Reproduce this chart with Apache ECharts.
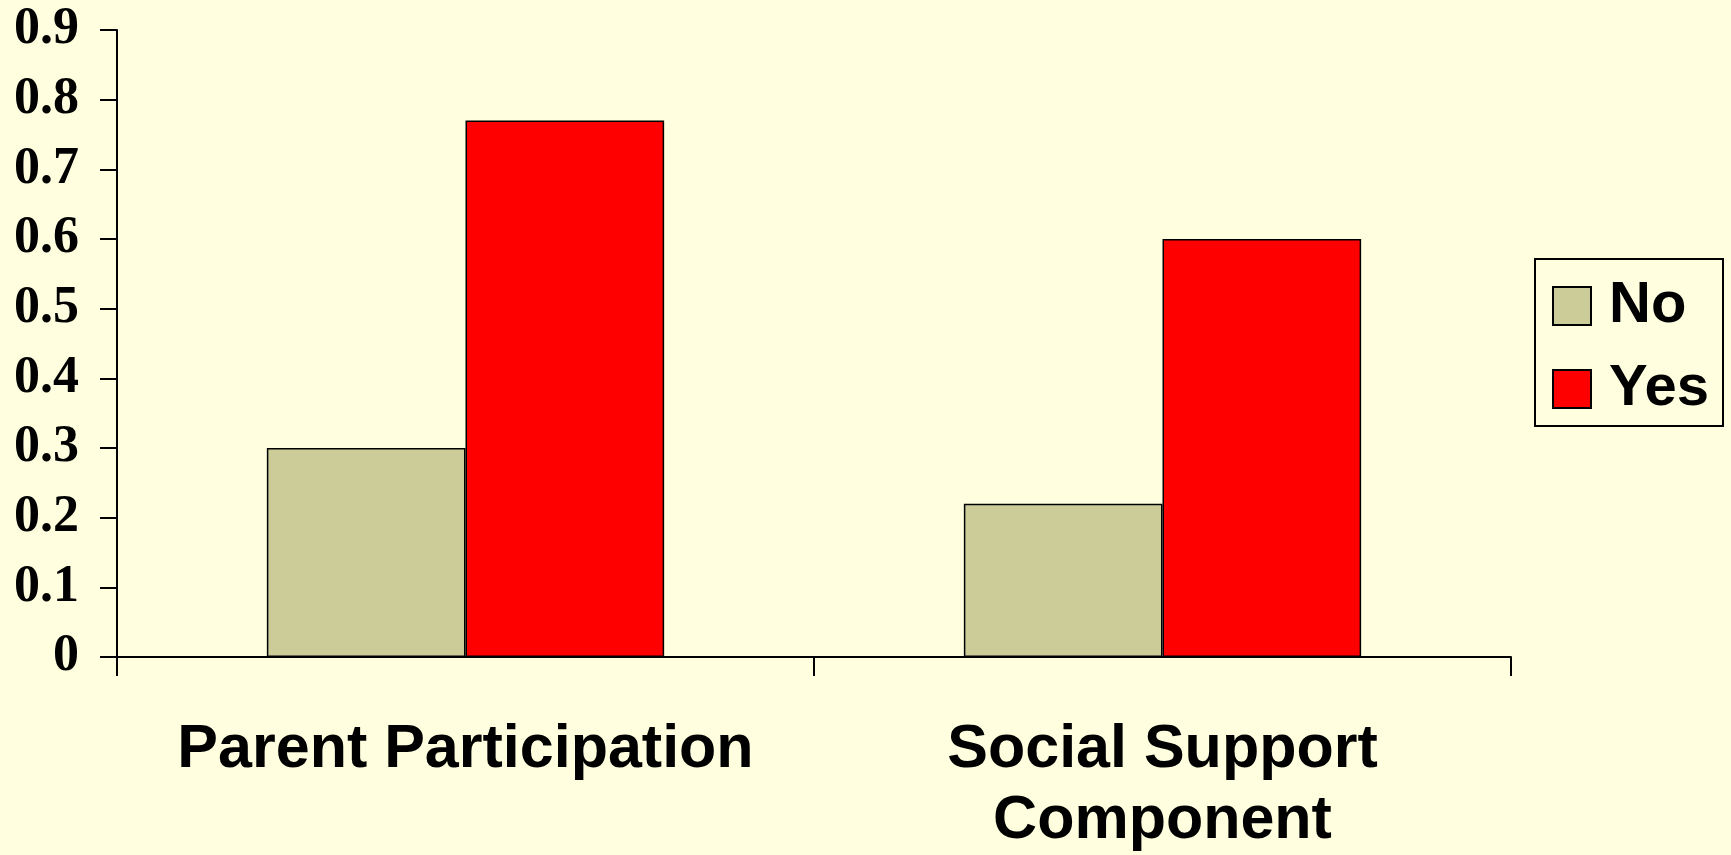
<!DOCTYPE html>
<html>
<head>
<meta charset="utf-8">
<script src="https://cdn.jsdelivr.net/npm/echarts@6/dist/echarts.min.js"></script>
<style>
html,body{margin:0;padding:0;background:#FFFFE0;}
#c{width:1731px;height:855px;}
</style>
</head>
<body>
<div id="c"></div>
<script>
const categories = ['Parent Participation', 'Social Support\nComponent'];
const seriesNames = ['No', 'Yes'];
const noValues = [0.30, 0.22];
const yesValues = [0.77, 0.60];
const yMin = 0, yMax = 0.9, yInterval = 0.1;

const chart = echarts.init(document.getElementById('c'));
chart.setOption({
  backgroundColor: '#FFFFE0',
  animation: false,
  grid: {left: 117, right: 220, top: 30, bottom: 198, containLabel: false, outerBoundsMode: 'none'},
  legend: {
    orient: 'vertical',
    left: 1535, top: 259,
    data: seriesNames,
    backgroundColor: '#FFFFE0',
    borderColor: '#000', borderWidth: 2,
    padding: [17, 14, 7, 17],
    itemWidth: 38, itemHeight: 38, itemGap: 23,
    icon: 'rect',
    itemStyle: {borderColor: '#000', borderWidth: 2},
    textStyle: {fontFamily: 'Liberation Sans, Arial', fontWeight: 'bold', fontSize: 58, color: '#000', lineHeight: 54, padding: [6, 0, 0, 13]}
  },
  xAxis: {
    type: 'category',
    data: categories,
    axisLine: {lineStyle: {color: '#000', width: 2}},
    axisTick: {show: true, length: 19, lineStyle: {color: '#000', width: 2}},
    axisLabel: {margin: 58, fontFamily: 'Liberation Sans, Arial', fontWeight: 'bold', fontSize: 61, color: '#000', lineHeight: 71, interval: 0}
  },
  yAxis: {
    type: 'value',
    min: yMin, max: yMax, interval: yInterval,
    splitLine: {show: false},
    axisLine: {show: true, lineStyle: {color: '#000', width: 2}},
    axisTick: {show: true, length: 17, lineStyle: {color: '#000', width: 2}},
    axisLabel: {margin: 38, fontFamily: 'Liberation Serif, Times New Roman', fontWeight: 'bold', fontSize: 52, color: '#000'}
  },
  series: [
    {name: seriesNames[0], type: 'bar', data: noValues, barGap: '0%', barCategoryGap: '43%',
     itemStyle: {color: '#CCCC99', borderColor: '#000', borderWidth: 1.5}},
    {name: seriesNames[1], type: 'bar', data: yesValues, barGap: '0%', barCategoryGap: '43%',
     itemStyle: {color: '#FF0000', borderColor: '#000', borderWidth: 1.5}}
  ]
});
</script>
</body>
</html>
